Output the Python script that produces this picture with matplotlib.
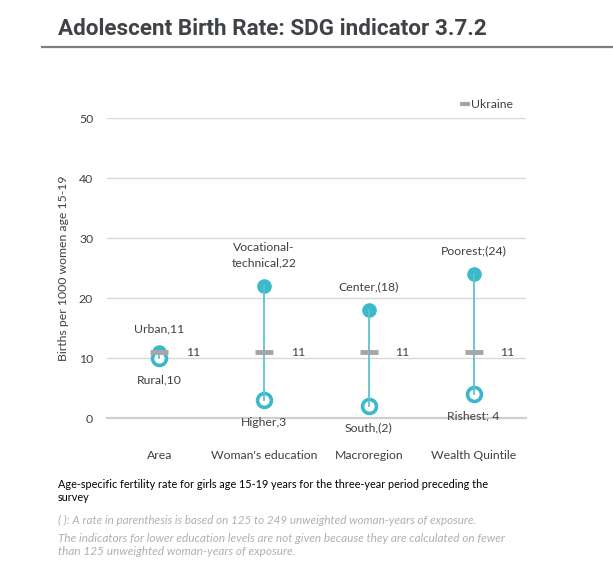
import matplotlib
matplotlib.use('Agg')
import matplotlib.pyplot as plt
from matplotlib.lines import Line2D

# data
groups = ['Area', "Woman's education", 'Macroregion', 'Wealth Quintile']
high_values = [11, 22, 18, 24]
low_values = [10, 3, 2, 4]
high_labels = ['Urban,11', 'Vocational-\ntechnical,22', 'Center,(18)', 'Poorest;(24)']
low_labels = ['Rural,10', 'Higher,3', 'South,(2)', 'Rishest; 4']
national = [11, 11, 11, 11]
national_label = 'Ukraine'
yticks = [0, 10, 20, 30, 40, 50]

TEAL = '#3bb9c8'
TEAL_LINE = '#5cc4d0'
GRAY = '#a6a6a6'
TEXT = '#404040'
FS = 8.8

plt.rcParams['font.family'] = ['Lato', 'DejaVu Sans']

fig = plt.figure(figsize=(6.13, 5.79), dpi=100)
ax = fig.add_axes([0.1746, 0.278, 0.6835, 0.518])

x = list(range(1, len(groups) + 1))

for xi, hi, lo in zip(x, high_values, low_values):
    ax.plot([xi, xi], [hi, lo], color=TEAL_LINE, lw=1.3, zorder=5)
ax.plot(x, high_values, 'o', color=TEAL, ms=9.5, zorder=3)
ax.plot(x, low_values, 'o', mfc='white', mec=TEAL, mew=2.6, ms=10, zorder=4)
ax.plot(x, national, '_', color=GRAY, ms=13, mew=3.5, zorder=6)

for xi, hi, lo, hl, ll, nv in zip(x, high_values, low_values, high_labels,
                                  low_labels, national):
    ax.annotate(hl, (xi, hi), xytext=(0, 13), textcoords='offset points',
                ha='center', va='bottom', fontsize=FS, color=TEXT,
                linespacing=1.5)
    ax.annotate(ll, (xi, lo), xytext=(0, -12), textcoords='offset points',
                ha='center', va='top', fontsize=FS, color=TEXT)
    ax.annotate(str(nv), (xi, nv), xytext=(19, 0), textcoords='offset points',
                ha='left', va='center', fontsize=FS, color=TEXT)

ax.set_xlim(0.5, 4.5)
ax.set_ylim(0, 50)
ax.set_yticks(yticks)
ax.set_xticks(x)
ax.set_xticklabels(groups)
ax.tick_params(axis='both', length=0, labelsize=FS, colors=TEXT)
ax.tick_params(axis='y', pad=10)
ax.tick_params(axis='x', pad=23)
ax.set_ylabel('Births per 1000 women age 15-19', fontsize=FS, color=TEXT,
              labelpad=7)
ax.grid(axis='y', color='#d9d9d9', lw=1)
ax.set_axisbelow(True)
for side in ['top', 'right', 'left', 'bottom']:
    ax.spines[side].set_visible(False)
ax.axhline(0, color='#cfcfcf', lw=1.6, zorder=1)
for art in ax.lines:
    art.set_clip_on(False)

handle = Line2D([], [], marker='_', color=GRAY, ls='none', ms=7, mew=3)
ax.legend([handle], [national_label], loc='lower right', frameon=False,
          bbox_to_anchor=(0.98, 1.01), fontsize=FS, labelcolor=TEXT,
          handletextpad=0.05, handlelength=0.8, borderaxespad=0)

# title and rule
fig.text(58 / 613, 1 - 35 / 579, 'Adolescent Birth Rate: SDG indicator 3.7.2',
         fontsize=16.2, fontweight='bold', color='#3f4347', va='baseline',
         family=['Roboto', 'DejaVu Sans'])
fig.add_artist(Line2D([42 / 613, 1.0], [1 - 47 / 579, 1 - 47 / 579],
                      color='#7f7f7f', lw=1.6))

# notes
fig.text(58 / 613, 1 - 491 / 579,
         'Age-specific fertility rate for girls age 15-19 years for the '
         'three-year period preceding the\nsurvey',
         fontsize=7.8, color='black', va='center', linespacing=1.3)
fig.text(58 / 613, 1 - 520 / 579,
         '( ): A rate in parenthesis is based on 125 to 249 unweighted '
         'woman-years of exposure.',
         fontsize=8.4, color='#b0b0b0', style='italic', va='center')
fig.text(58 / 613, 1 - 545 / 579,
         'The indicators for lower education levels are not given because '
         'they are calculated on fewer\nthan 125 unweighted woman-years of '
         'exposure.',
         fontsize=8.5, color='#b0b0b0', style='italic', va='center',
         linespacing=1.2)

fig.savefig('out.png', dpi=100)
